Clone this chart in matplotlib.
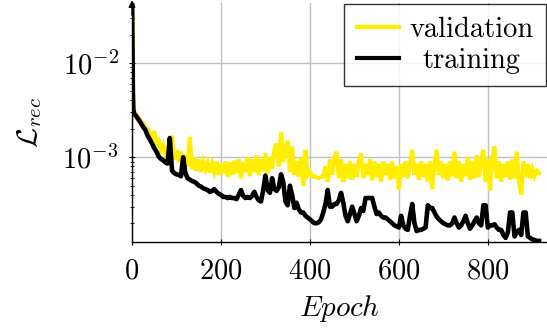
import numpy as np
import matplotlib
matplotlib.use("Agg")
import matplotlib.pyplot as plt

plt.rcParams['font.family'] = ['cmr10', 'DejaVu Serif']
plt.rcParams['mathtext.fontset'] = 'cm'
plt.rcParams['axes.formatter.use_mathtext'] = True
plt.rcParams['axes.unicode_minus'] = True

# epochs: first few individually, then every 5 epochs up to 915
epochs_early = [0, 1, 2, 3]
epochs_late = list(range(5, 920, 5))
epochs = np.array(epochs_early + epochs_late)

# values in units of 1e-4
training = [
    600, 150, 50, 32,
    29, 27, 25, 23, 21, 19.5, 17, 15.5, 14, 12.5,
    11.5, 10.2, 9.6, 9.3, 8.8, 8.6, 16, 7.2, 6.8, 6.6,
    6.5, 6.3, 10, 6.8, 6.0, 5.8, 5.6, 5.5, 5.3, 5.0,
    4.9, 4.7, 4.6, 4.5, 4.3, 4.4, 4.6, 4.3, 4.1, 4.0,
    3.8, 3.8, 3.7, 3.8, 3.7, 3.7, 3.6, 4.0, 4.5, 3.9,
    3.7, 3.8, 3.7, 3.9, 4.3, 3.8, 3.5, 3.4, 4.5, 6.4,
    4.5, 4.2, 6.0, 4.6, 4.4, 4.8, 6.6, 5.5, 3.4, 3.1,
    5.0, 4.0, 2.9, 3.3, 2.8, 2.6, 2.6, 2.4, 2.3, 2.2,
    2.1, 2.0, 2.0, 2.05, 2.2, 2.6, 3.2, 4.5, 3.0, 3.0,
    3.2, 3.2, 3.5, 4.2, 3.3, 2.4, 2.1, 2.5, 3.0, 2.5,
    2.1, 2.4, 2.9, 2.7, 3.7, 3.7, 3.7, 3.7, 3.0, 2.5,
    2.6, 2.4, 2.3, 2.3, 2.2, 2.1, 2.0, 1.9, 1.85, 1.8,
    2.4, 1.9, 1.75, 1.7, 2.4, 3.2, 2.0, 1.65, 1.7, 1.7,
    1.75, 1.8, 3.1, 2.9, 2.9, 2.6, 2.35, 2.2, 2.1, 2.0,
    1.95, 1.9, 1.9, 2.0, 2.3, 2.0, 1.8, 1.9, 2.1, 2.4,
    2.0, 1.75, 1.9, 2.1, 2.3, 2.0, 1.9, 3.1, 3.1, 1.8,
    1.9, 1.9, 1.95, 1.8, 1.7, 1.7, 1.5, 1.4, 1.6, 2.6,
    2.6, 1.45, 1.6, 1.7, 1.5, 2.6, 2.6, 1.45, 1.4, 1.35,
    1.33, 1.3, 1.3,
]

validation = [
    600, 150, 50, 32,
    30, 28, 26, 24, 23, 21, 20, 18, 16, 19,
    14, 15, 12, 13.5, 11, 12.5, 10, 17, 9.5, 12,
    9, 11.5, 8.5, 10.5, 8, 16.5, 7.5, 10, 7.2, 9.5,
    7, 9, 7.5, 8.8, 6.9, 8.5, 7, 9, 6.5, 8.5,
    6.8, 9, 6.2, 8.8, 6.5, 9.2, 6.8, 9.5, 6, 8.8,
    7, 10, 6.3, 9.5, 7, 10.5, 6.5, 9.5, 7.2, 11,
    6.8, 10, 7.5, 12, 14, 8, 18.5, 9, 12, 15,
    7, 13, 6.5, 9, 6.2, 10, 5, 12, 6.5, 7,
    6.3, 6.3, 6.1, 6.0, 6.2, 6.3, 8, 5.5, 9.5, 6.5,
    10, 11.5, 6, 9.5, 5.5, 8.5, 6, 9, 5.8, 8.5,
    6.2, 9, 11, 6, 8.5, 6.5, 9.5, 5.7, 9, 6.2,
    8.5, 5.5, 9, 6.5, 8.5, 5.8, 9, 6, 8, 4.5,
    8.5, 6.2, 9, 6, 8.5, 12, 6.5, 8.5, 5.8, 9,
    6.2, 8.5, 5.5, 9, 4.6, 8.5, 12, 6.5, 9, 6,
    8.5, 5.7, 9, 6.3, 11.5, 6, 9, 5.5, 8.5, 6.3,
    10, 5.8, 9, 6, 10.5, 6.2, 9, 12, 5.5, 9.5,
    4.4, 10, 13, 6, 9, 5.5, 8.5, 6.2, 9, 5.8,
    9.5, 6, 11.5, 5.5, 4.0, 9, 6.2, 8.5, 6, 7.5,
    6.3, 7.2, 6.8,
]

scale = 1e-4
x_ticks = [0, 200, 400, 600, 800]
legend_labels = ['validation', 'training']

fig = plt.figure(figsize=(5.47, 3.29), dpi=100)
ax = fig.add_axes([132/547, 1-242.3/329, (547-132)/547, (242.3-3)/329])

ax.plot(epochs, np.array(validation)*scale, color='#FFEE00', lw=3.0,
        solid_joinstyle='miter', label=legend_labels[0], zorder=2)
ax.plot(epochs, np.array(training)*scale, color='black', lw=3.3,
        label=legend_labels[1], zorder=3)

ax.set_yscale('log')
ax.set_xlim(0, 933)
ax.set_ylim(1.256e-4, 0.0432)
ax.set_xticks(x_ticks)

ax.spines['top'].set_visible(False)
ax.spines['right'].set_visible(False)
ax.spines['left'].set_linewidth(1.0)
ax.spines['bottom'].set_linewidth(1.0)

ax.grid(True, which='major', color='#c0c0c0', lw=1.0, zorder=0)
ax.set_axisbelow(True)

ax.tick_params(axis='both', which='major', direction='inout', length=5,
               width=0.8, labelsize=20.5)
ax.tick_params(axis='y', which='minor', direction='inout', length=3.5, width=0.6)
ax.tick_params(axis='x', which='major', pad=9)
ax.tick_params(axis='y', which='major', pad=7)

ax.set_xlabel(r'$Epoch$', fontsize=21, labelpad=6)
ax.set_ylabel(r'$\mathcal{L}_{rec}$', fontsize=21, labelpad=13)

ax.annotate('', xy=(0, 1.012), xytext=(0, 0.95), xycoords='axes fraction',
            arrowprops=dict(arrowstyle='-|>', lw=1.0, color='black',
                            mutation_scale=10, shrinkA=0, shrinkB=0))

leg = ax.legend(loc='upper right', bbox_to_anchor=(1.0, 1.0), fontsize=20.5,
                frameon=True, fancybox=False, edgecolor='black',
                handlelength=1.5, handletextpad=0.35, labelspacing=0.15,
                borderpad=0.45, borderaxespad=0.03)
leg.get_frame().set_linewidth(1.0)
for h in leg.legend_handles:
    h.set_linewidth(3.0)

# centre the shorter legend entry within the text column (as in pgfplots)
fig.canvas.draw()
texts = leg.get_texts()
w0 = texts[0].get_window_extent().width
w1 = texts[1].get_window_extent().width
texts[1].set_x((w0 - w1) / 2)

fig.savefig('out.png', dpi=100)
